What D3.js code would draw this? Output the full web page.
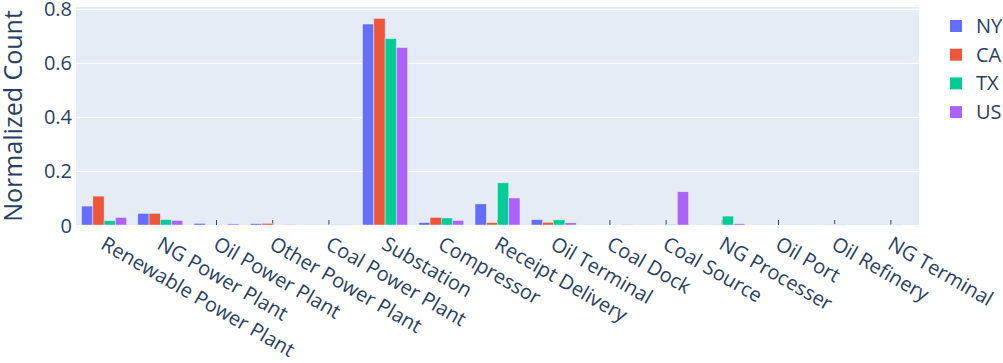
<!DOCTYPE html>
<html>
<head>
<meta charset="utf-8">
<script src="https://cdn.jsdelivr.net/npm/d3@7"></script>
<style>
  body { margin: 0; background: #fff; }
  text { font-family: "Open Sans", sans-serif; fill: #2a3f5f; }
</style>
</head>
<body>
<div id="plot"></div>
<script>
// categories and series values
const categories = [
  "Renewable Power Plant", "NG Power Plant", "Oil Power Plant", "Other Power Plant",
  "Coal Power Plant", "Substation", "Compressor", "Receipt Delivery", "Oil Terminal",
  "Coal Dock", "Coal Source", "NG Processer", "Oil Port", "Oil Refinery", "NG Terminal"
];
const seriesNames = ["NY", "CA", "TX", "US"];
const colors = ["#636efa", "#EF553B", "#00cc96", "#ab63fa"];
const nyValues = [0.070, 0.043, 0.006, 0.005, 0.000, 0.744, 0.009, 0.078, 0.020, 0.000, 0.000, 0.000, 0.000, 0.000, 0.000];
const caValues = [0.107, 0.043, 0.000, 0.006, 0.000, 0.765, 0.028, 0.009, 0.010, 0.000, 0.000, 0.001, 0.000, 0.001, 0.000];
const txValues = [0.016, 0.020, 0.000, 0.000, 0.001, 0.690, 0.026, 0.156, 0.019, 0.000, 0.002, 0.033, 0.000, 0.001, 0.001];
const usValues = [0.028, 0.017, 0.004, 0.002, 0.001, 0.657, 0.017, 0.100, 0.008, 0.002, 0.123, 0.005, 0.000, 0.000, 0.000];
const yTicks = [0, 0.2, 0.4, 0.6, 0.8];

const allValues = [nyValues, caValues, txValues, usValues];

const width = 1003;
const height = 363;
const margin = { top: 7, right: 84, bottom: 138, left: 76 };

const svg = d3.select("#plot")
  .append("svg")
  .attr("width", width)
  .attr("height", height);

const xScale = d3.scaleBand()
  .domain(categories)
  .range([margin.left, width - margin.right]);

const xInner = d3.scaleBand()
  .domain(seriesNames)
  .range([0, xScale.bandwidth()])
  .paddingOuter(0.5)
  .paddingInner(0);

// plotly-like auto range: max * ~1.055
const yScale = d3.scaleLinear()
  .domain([0, 0.807])
  .range([height - margin.bottom, margin.top]);

// plot background
svg.append("rect")
  .attr("x", margin.left)
  .attr("y", margin.top)
  .attr("width", width - margin.left - margin.right)
  .attr("height", height - margin.top - margin.bottom)
  .attr("fill", "#E5ECF6");

// gridlines + y tick labels
const yAxis = svg.append("g")
  .attr("transform", `translate(${margin.left},0)`)
  .call(d3.axisLeft(yScale).tickValues(yTicks).tickFormat(d => d === 0 ? "0" : d3.format(".1f")(d))
    .tickSize(-(width - margin.left - margin.right)).tickPadding(4));
yAxis.select(".domain").remove();
yAxis.selectAll(".tick line").attr("stroke", "#fff").attr("stroke-width", 1);
yAxis.selectAll(".tick text")
  .attr("font-size", "20px")
  .attr("font-family", "Open Sans")
  .attr("fill", "#2a3f5f")
  .attr("dy", "0.35em");

// small tick marks at category centres
const xAxis = svg.append("g")
  .attr("transform", `translate(0,${height - margin.bottom})`)
  .call(d3.axisBottom(xScale).tickSize(-5).tickFormat(""));
xAxis.select(".domain").remove();
xAxis.selectAll(".tick line").attr("stroke", "#444").attr("stroke-width", 1);

// bars
const groups = svg.selectAll(".series")
  .data(seriesNames)
  .enter()
  .append("g")
  .attr("fill", (d, i) => colors[i]);

groups.selectAll("rect")
  .data((s, i) => categories.map((c, j) => ({ cat: c, series: s, value: allValues[i][j] })))
  .enter()
  .append("rect")
  .attr("x", d => xScale(d.cat) + xInner(d.series))
  .attr("y", d => yScale(d.value))
  .attr("width", xInner.bandwidth())
  .attr("height", d => yScale(0) - yScale(d.value))
  .attr("stroke", "#E5ECF6")
  .attr("stroke-width", 0.5);

// x tick labels, rotated 30 degrees
svg.append("g")
  .selectAll("text")
  .data(categories)
  .enter()
  .append("text")
  .attr("transform", d => `translate(${xScale(d) + xScale.bandwidth() / 2 + 3},${height - margin.bottom + 10}) rotate(30)`)
  .attr("dy", "0.75em")
  .attr("text-anchor", "start")
  .attr("font-size", "20px")
  .text(d => d);

// y axis title
svg.append("text")
  .attr("transform", `translate(22,${(margin.top + height - margin.bottom) / 2}) rotate(-90)`)
  .attr("text-anchor", "middle")
  .attr("font-size", "25px")
  .text("Normalized Count");

// legend
const legend = svg.append("g")
  .selectAll("g")
  .data(seriesNames)
  .enter()
  .append("g")
  .attr("transform", (d, i) => `translate(950,${26 + i * 28.7})`);

legend.append("rect")
  .attr("x", 0)
  .attr("y", -6)
  .attr("width", 12)
  .attr("height", 12)
  .attr("fill", (d, i) => colors[i]);

legend.append("text")
  .attr("x", 26)
  .attr("dy", "0.35em")
  .attr("font-size", "20px")
  .text(d => d);
</script>
</body>
</html>
